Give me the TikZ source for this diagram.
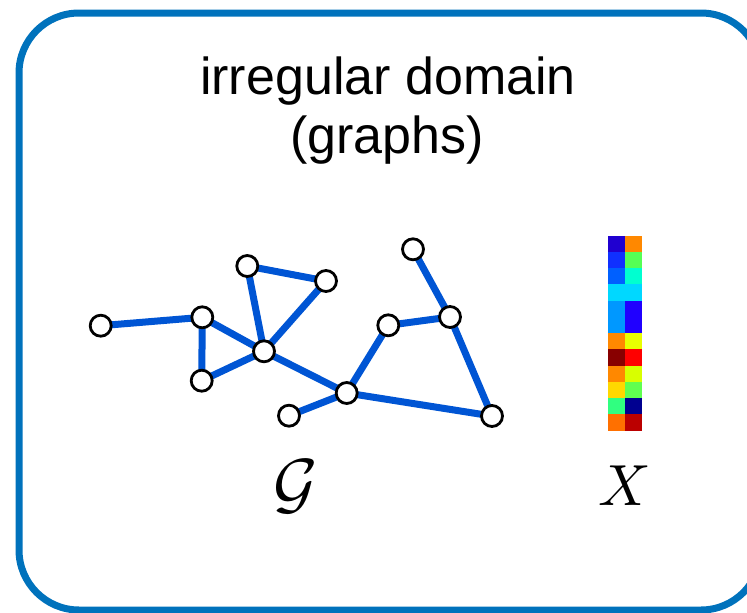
\documentclass[tikz,border=0pt]{standalone}
\usepackage{fontspec}
\newfontfamily\titlefont{Liberation Sans}

% frame and graph colours
\definecolor{framecol}{RGB}{0,114,188}
\definecolor{edgecol}{RGB}{0,85,212}

% signal matrix colours (left column, right column)
\definecolor{cAa}{RGB}{32,0,208}   \definecolor{cAb}{RGB}{255,136,0}
\definecolor{cBa}{RGB}{16,48,255}  \definecolor{cBb}{RGB}{85,255,85}
\definecolor{cCa}{RGB}{0,96,255}   \definecolor{cCb}{RGB}{0,255,208}
\definecolor{cDa}{RGB}{0,216,255}  \definecolor{cDb}{RGB}{0,216,255}
\definecolor{cEa}{RGB}{0,152,255}  \definecolor{cEb}{RGB}{32,0,255}
\definecolor{cFa}{RGB}{0,152,255}  \definecolor{cFb}{RGB}{32,0,255}
\definecolor{cGa}{RGB}{255,136,0}  \definecolor{cGb}{RGB}{232,255,0}
\definecolor{cHa}{RGB}{136,0,0}    \definecolor{cHb}{RGB}{255,0,0}
\definecolor{cIa}{RGB}{255,136,0}  \definecolor{cIb}{RGB}{216,255,0}
\definecolor{cJa}{RGB}{255,216,0}  \definecolor{cJb}{RGB}{96,255,80}
\definecolor{cKa}{RGB}{48,255,128} \definecolor{cKb}{RGB}{0,0,144}
\definecolor{cLa}{RGB}{255,112,0}  \definecolor{cLb}{RGB}{187,0,0}

\tikzset{
  vertex/.style={circle, draw=black, line width=2.8pt, fill=white,
    minimum size=21pt, inner sep=0pt},
  gedge/.style={edgecol, line width=7pt},
  frame/.style={framecol, line width=7pt, rounded corners=60pt},
  titletext/.style={font=\titlefont\fontsize{52}{58}\selectfont, anchor=base, inner sep=0pt},
  mathlabel/.style={anchor=base, inner sep=0pt},
}

\begin{document}
\begin{tikzpicture}[x=1pt, y=-1pt]
  \useasboundingbox (0,0) rectangle (747,613);
  \clip (0,0) rectangle (747,613);

  % outer frame: its right side lies just past the page edge
  \draw[frame] (761,300) -- (761,13) -- (19,13) -- (19,610) -- (761,610) -- (761,300);

  % title
  \node[titletext] (t1) at (388,94.5) {irregular domain};
  \node[titletext] (t2) at (387,153) {(graphs)};

  % graph vertex positions
  \foreach \n/\x/\y in {v1/100.7/325.7, v2/202.3/317.3, v3/201.7/380.7,
                        v4/264/351.3, v5/247.3/266, v6/326/281,
                        v7/289/415.7, v8/346.7/393, v9/388.3/325.3,
                        v10/450/317, v11/413/249.3, v12/492/416}
    \coordinate (\n) at (\x,\y);

  % graph edges
  \foreach \a/\b in {v1/v2, v2/v3, v2/v4, v3/v4, v4/v5, v5/v6, v6/v4,
                     v4/v8, v7/v8, v8/v9, v9/v10, v10/v11, v10/v12, v8/v12}
    \draw[gedge] (\a) -- (\b);

  % vertices on top of the edges
  \foreach \n in {v1,v2,v3,v4,v5,v6,v7,v8,v9,v10,v11,v12}
    \node[vertex] (n\n) at (\n) {};

  % signal matrix X: 12 rows, 2 columns
  \foreach \r [count=\i from 0] in {A,B,C,D,E,F,G,H,I,J,K,L} {
    \fill[c\r a] (608.3,{235.7+16.25*\i}) rectangle (625.5,{235.7+16.25*(\i+1)});
    \fill[c\r b] (625.3,{235.7+16.25*\i}) rectangle (642.3,{235.7+16.25*(\i+1)});
  }

  % labels
  \node[mathlabel, scale=6.8] (G) at (296,506) {$\mathcal{G}$};
  \node[mathlabel, scale=5.8] (X) at (625,505) {$X$};
\end{tikzpicture}
\end{document}
